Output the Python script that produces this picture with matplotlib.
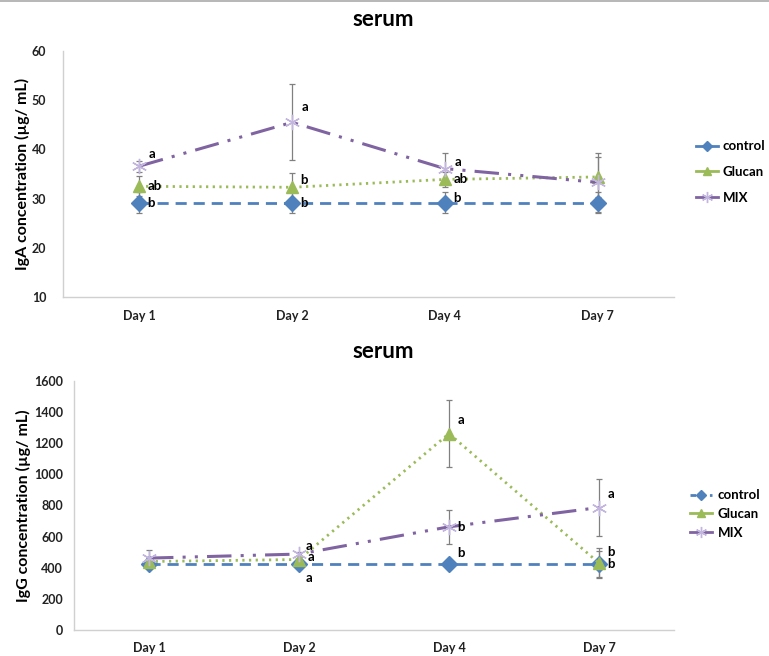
import matplotlib
matplotlib.use("Agg")
import matplotlib.pyplot as plt
from matplotlib.lines import Line2D

plt.rcParams['font.family'] = ['Lato', 'DejaVu Sans']

# data
days = ["Day 1", "Day 2", "Day 4", "Day 7"]
series = ["control", "Glucan", "MIX"]

iga_control = [29.2, 29.2, 29.2, 29.2]
iga_glucan = [32.5, 32.3, 33.9, 34.4]
iga_mix = [36.6, 45.5, 36.1, 33.3]
iga_control_err = [2.2, 2.2, 2.2, 2.2]
iga_glucan_err = [2.0, 2.9, 1.6, 4.0]
iga_mix_err = [1.1, 7.7, 3.2, 6.0]
iga_letters_control = ["b", "b", "b", ""]
iga_letters_glucan = ["ab", "b", "ab", ""]
iga_letters_mix = ["a", "a", "a", ""]

igg_control = [425, 425, 425, 425]
igg_glucan = [440, 453, 1262, 430]
igg_mix = [462, 488, 663, 787]
igg_control_err = [10, 10, 10, 85]
igg_glucan_err = [20, 20, 213, 95]
igg_mix_err = [50, 15, 111, 184]
igg_letters_control = ["", "a", "b", "b"]
igg_letters_glucan = ["", "a", "a", "b"]
igg_letters_mix = ["", "a", "b", "a"]

blue = "#4F81BD"
green = "#9BBB59"
purple = "#8064A2"
lav = "#C3B6DE"

fig = plt.figure(figsize=(7.69, 6.56), dpi=100)

# thin frame line at the top
fig.add_artist(Line2D([0, 1], [0.998, 0.998], color="#aaaaaa", lw=1.2))

x = list(range(len(days)))


def draw(ax, ctrl, glu, mix, ce, ge, me, lc, lg, lm, offs):
    ax.errorbar(x, ctrl, yerr=ce, fmt="none", ecolor="#808080", elinewidth=0.9, capsize=2, capthick=0.9, zorder=2)
    ax.errorbar(x, glu, yerr=ge, fmt="none", ecolor="#808080", elinewidth=0.9, capsize=2, capthick=0.9, zorder=2)
    ax.errorbar(x, mix, yerr=me, fmt="none", ecolor="#808080", elinewidth=0.9, capsize=2, capthick=0.9, zorder=2)
    ax.plot(x, ctrl, color=blue, lw=2, ls=(0, (4, 2.5)), marker="D", ms=8, mfc=blue, mec=blue, zorder=3)
    ax.plot(x, glu, color=green, lw=2, ls=(0, (0.8, 1.6)), marker="^", ms=9, mfc=green, mec=green, zorder=3)
    ax.plot(x, mix, color=purple, lw=2.2, ls=(0, (8, 3, 1, 3, 1, 3)), marker=(6, 2, 0), ms=11,
            mec=lav, mew=1.0, zorder=3)
    for vals, letters, key in [(ctrl, lc, "c"), (glu, lg, "g"), (mix, lm, "m")]:
        for i in x:
            if letters[i]:
                dx, dy = offs[key][i]
                ax.annotate(letters[i], (i, vals[i]), xytext=(dx, dy), textcoords="offset points",
                            fontsize=9.5, fontweight="bold", ha="left", va="center", zorder=4)
    ax.set_xlim(-0.5, 3.5)
    ax.set_xticks(x)
    ax.set_xticklabels(days, fontsize=9, fontweight="bold", color="#222222")
    for s in ["top", "right"]:
        ax.spines[s].set_visible(False)
    for s in ["left", "bottom"]:
        ax.spines[s].set_color("#d0d0d0")
        ax.spines[s].set_linewidth(1)
    ax.tick_params(length=0, pad=9)


# top chart
ax1 = fig.add_axes([63 / 769, 1 - 297 / 656, 611 / 769, 246 / 656])
offs1 = {
    "c": [(6, 0), (6, 0), (6, 3), (6, 0)],
    "g": [(6, 0), (6, 5), (6, 0), (6, 0)],
    "m": [(7, 9), (7, 11), (7, 5), (6, 0)],
}
draw(ax1, iga_control, iga_glucan, iga_mix, iga_control_err, iga_glucan_err, iga_mix_err,
     iga_letters_control, iga_letters_glucan, iga_letters_mix, offs1)
ax1.set_ylim(10, 60)
ax1.set_yticks(range(10, 61, 10))
ax1.tick_params(axis="y", pad=12)
for t in ax1.get_yticklabels():
    t.set_fontsize(9)
    t.set_fontweight("bold")
    t.set_color("#222222")
ax1.set_ylabel("IgA concentration (\u00b5g/ mL)", fontsize=11.5, fontweight="bold", labelpad=1)
fig.text(383 / 769, 1 - 20 / 656, "serum", ha="center", va="center", fontsize=16, fontweight="bold")

# bottom chart
ax2 = fig.add_axes([74 / 769, 1 - 630 / 656, 600 / 769, 249 / 656])
offs2 = {
    "c": [(6, 0), (5, -10), (6, 8), (6, 0)],
    "g": [(6, 0), (5, 10), (6, 10), (6, 8)],
    "m": [(6, 0), (6, -2), (6, 0), (6, 10)],
}
draw(ax2, igg_control, igg_glucan, igg_mix, igg_control_err, igg_glucan_err, igg_mix_err,
     igg_letters_control, igg_letters_glucan, igg_letters_mix, offs2)
ax2.set_ylim(0, 1600)
ax2.set_yticks(range(0, 1601, 200))
ax2.tick_params(axis="y", pad=8)
for t in ax2.get_yticklabels():
    t.set_fontsize(9)
    t.set_fontweight("bold")
    t.set_color("#222222")
ax2.set_ylabel("IgG concentration (\u00b5g/ mL)", fontsize=11.5, fontweight="bold", labelpad=2)
fig.text(383 / 769, 1 - 352 / 656, "serum", ha="center", va="center", fontsize=16, fontweight="bold")


# legends
def legend_handles(dashed_control):
    return [
        Line2D([], [], color=blue, lw=2, ls=(0, (2, 1.5)) if dashed_control else "-", marker="D", ms=5, mfc=blue, mec=blue),
        Line2D([], [], color=green, lw=2, marker="^", ms=6, mfc=green, mec=green),
        Line2D([], [], color=purple, lw=2, marker=(6, 2, 0), ms=8, mec=lav),
    ]


fig.legend(legend_handles(False), series, loc="center left", bbox_to_anchor=(696 / 769, 1 - 172 / 656),
           frameon=False, borderpad=0, borderaxespad=0, handlelength=1.7, handletextpad=0.3,
           labelspacing=1.05, prop={"weight": "bold", "size": 9.5})
fig.legend(legend_handles(True), series, loc="center left", bbox_to_anchor=(690 / 769, 1 - 514 / 656),
           frameon=False, borderpad=0, borderaxespad=0, handlelength=1.7, handletextpad=0.4,
           labelspacing=0.5, prop={"weight": "bold", "size": 9.5})

fig.savefig("out.png", dpi=100)
